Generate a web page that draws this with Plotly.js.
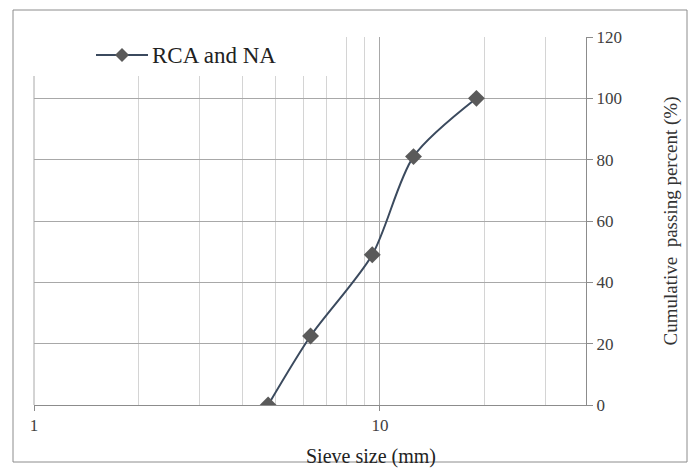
<!DOCTYPE html>
<html>
<head>
<meta charset="utf-8">
<script src="https://cdn.plot.ly/plotly-3.0.1.min.js"></script>
<style>html,body{margin:0;padding:0;background:#fff;}#chart{width:694px;height:468px;}</style>
</head>
<body>
<div id="chart"></div>
<script>
// Data
const sieveSize = [4.75, 6.3, 9.5, 12.5, 19];
const passingPercent = [0, 22.5, 49, 81, 100];
const seriesName = 'RCA and NA';
const xTitle = 'Sieve size (mm)';
const yTitle = 'Cumulative  passing percent (%)';
const xMajorTicks = [1, 10];
const xMinorTicks = [2, 3, 4, 5, 6, 7, 8, 9, 20, 30];
const yTicks = [0, 20, 40, 60, 80, 100, 120];

const L = 34, R = 586, T = 37, B = 405;
const W = R - L, H = B - T;
function px(x){ return (x - L) / W; }
function py(y){ return (B - y) / H; }

const FONT = 'Liberation Serif';
const LINE_COLOR = '#3b4a5e';
const MARKER_COLOR = '#5a5a5a';

const trace = {
  x: sieveSize, y: passingPercent, name: seriesName,
  type: 'scatter', mode: 'lines+markers', showlegend: false,
  line: {color: LINE_COLOR, width: 2, shape: 'spline', smoothing: 0.8},
  marker: {symbol: 'diamond', size: 13, color: MARKER_COLOR, line: {width: 0}}
};

// legend drawn by hand (symbol + text), positions in paper units
const legY = 55, legX0 = 96, legX1 = 148, legMid = 122, d = 7;
const diamondPath = 'M ' + px(legMid - d) + ',' + py(legY) + ' L ' + px(legMid) + ',' + py(legY - d) +
  ' L ' + px(legMid + d) + ',' + py(legY) + ' L ' + px(legMid) + ',' + py(legY + d) + ' Z';

const layout = {
  width: 694, height: 468,
  margin: {l: L, r: 694 - R, t: T, b: 468 - B},
  paper_bgcolor: '#fff', plot_bgcolor: '#fff',
  font: {family: FONT, color: '#404040', size: 13},
  showlegend: false,
  xaxis: {
    type: 'log', range: [0, Math.log10(39.4)],
    tickvals: xMajorTicks, ticktext: xMajorTicks.map(String),
    showgrid: true, gridcolor: '#a8a8a8', gridwidth: 1,
    minor: {tickvals: xMinorTicks, showgrid: true, gridcolor: '#d4d4d4', gridwidth: 1, ticks: ''},
    showline: true, linecolor: '#8c8c8c', linewidth: 1,
    ticks: 'outside', ticklen: 5, tickcolor: '#8c8c8c',
    zeroline: false,
    tickfont: {family: FONT, size: 17, color: '#404040'}
  },
  yaxis: {
    side: 'right', range: [0, 120], tickvals: yTicks,
    showgrid: true, gridcolor: '#a8a8a8', gridwidth: 1,
    showline: true, linecolor: '#8c8c8c', linewidth: 1,
    ticks: 'outside', ticklen: 6, tickcolor: '#8c8c8c',
    zeroline: false,
    tickfont: {family: FONT, size: 17, color: '#404040'},
    title: {text: yTitle, font: {family: FONT, size: 19, color: '#333'}, standoff: 42}
  },
  shapes: [
    // gridline at x = 1 (left edge)
    {type: 'line', xref: 'paper', yref: 'paper', x0: 0, x1: 0, y0: 0, y1: 1,
     line: {color: '#a8a8a8', width: 1}, layer: 'below'},
    // white box behind legend
    {type: 'rect', xref: 'paper', yref: 'paper', x0: px(13), x1: px(335), y0: py(76), y1: py(30),
     fillcolor: '#fff', line: {width: 0}, layer: 'above'},
    // outer chart border
    {type: 'rect', xref: 'paper', yref: 'paper', x0: px(13), x1: px(687), y0: py(462), y1: py(10),
     fillcolor: 'rgba(0,0,0,0)', line: {color: '#8c8c8c', width: 1}, layer: 'above'},
    // legend symbol
    {type: 'line', xref: 'paper', yref: 'paper', x0: px(legX0), x1: px(legX1), y0: py(legY), y1: py(legY),
     line: {color: LINE_COLOR, width: 2}, layer: 'above'},
    {type: 'path', xref: 'paper', yref: 'paper', path: diamondPath,
     fillcolor: MARKER_COLOR, line: {width: 0}, layer: 'above'}
  ],
  annotations: [
    {text: seriesName, xref: 'paper', yref: 'paper', x: px(150), y: py(legY),
     xanchor: 'left', yanchor: 'middle', showarrow: false,
     font: {family: FONT, size: 23, color: '#222'}},
    {text: xTitle, xref: 'paper', yref: 'paper', x: px(371), y: py(456),
     xanchor: 'center', yanchor: 'middle', showarrow: false,
     font: {family: FONT, size: 20, color: '#222'}}
  ]
};

Plotly.newPlot('chart', [trace], layout, {displayModeBar: false, staticPlot: true});
</script>
</body>
</html>
